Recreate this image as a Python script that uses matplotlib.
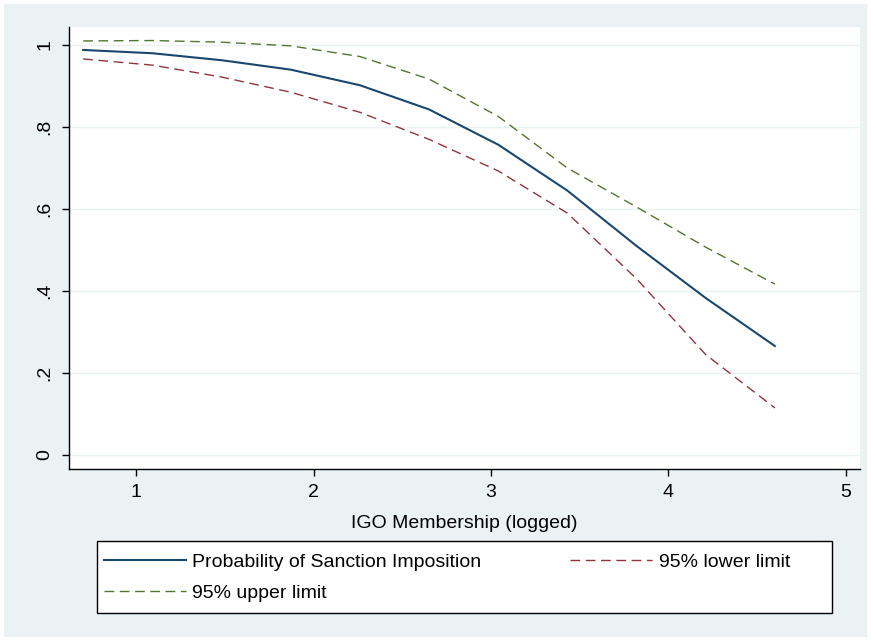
import numpy as np
import matplotlib.pyplot as plt
from matplotlib.patches import Rectangle

plt.rcParams['font.family'] = ['Liberation Sans', 'DejaVu Sans']

# predicted probability by logged IGO membership
igo = [0.70, 1.09, 1.48, 1.87, 2.26, 2.65, 3.04, 3.43, 3.82, 4.21, 4.60]
prob = [0.988, 0.980, 0.963, 0.940, 0.902, 0.843, 0.757, 0.645, 0.510, 0.383, 0.266]
lower = [0.966, 0.951, 0.922, 0.885, 0.836, 0.770, 0.693, 0.590, 0.430, 0.245, 0.115]
upper = [1.010, 1.011, 1.007, 0.998, 0.972, 0.917, 0.826, 0.700, 0.605, 0.507, 0.417]

yticks = [0, 0.2, 0.4, 0.6, 0.8, 1.0]
ylabels = ['0', '.2', '.4', '.6', '.8', '1']
xticks = [1, 2, 3, 4, 5]

bg = '#EAF2F3'
navy = '#1A476F'
maroon = '#90353B'
green = '#55752F'
W, H = 871, 641

fig = plt.figure(figsize=(8.71, 6.41), dpi=100)
fig.patch.set_facecolor('white')
fig.patches.append(Rectangle((4/W, 4/H), 1 - 8/W, 1 - 8/H,
                             transform=fig.transFigure, facecolor=bg,
                             edgecolor='none', zorder=-10))
# legend box
fig.patches.append(Rectangle((97/W, 1 - 613/H), (832 - 97)/W, (613 - 541)/H,
                             transform=fig.transFigure, facecolor='white',
                             edgecolor='black', lw=1, zorder=-5))

ax = fig.add_axes([69/W, 1 - 469/H, (860 - 69)/W, (469 - 27)/H])
ax.set_facecolor('white')

dash = (0, (7, 4))
l1, = ax.plot(igo, prob, color=navy, lw=1.5, label='Probability of Sanction Imposition')
l2, = ax.plot(igo, lower, color=maroon, lw=1.0, ls=dash, label='95% lower limit')
l3, = ax.plot(igo, upper, color=green, lw=1.0, ls=dash, label='95% upper limit')

ax.set_xlim(0.62, 5.08)
ax.set_ylim(-0.034, 1.044)
ax.set_yticks(yticks)
ax.set_yticklabels(ylabels, rotation=90, va='center')
ax.set_xticks(xticks)
ax.tick_params(labelsize=14, length=5, width=1, direction='out', pad=6)
for y in yticks:
    ax.axhline(y, color=bg, lw=1, zorder=0)

for s in ['top', 'right']:
    ax.spines[s].set_visible(False)
for s in ['left', 'bottom']:
    ax.spines[s].set_linewidth(1)

ax.set_xlabel('IGO Membership (logged)', fontsize=14, labelpad=10)

leg = fig.legend([l1, l3, l2], [l1.get_label(), l3.get_label(), l2.get_label()],
                 ncol=2, loc='upper left',
                 bbox_to_anchor=(104/W, 1 - 553/H),
                 fontsize=14, handlelength=4.2, frameon=False,
                 borderaxespad=0, borderpad=0, handletextpad=0.35,
                 labelspacing=0.7, columnspacing=4.55)

plt.savefig('out.png', dpi=100, facecolor=fig.get_facecolor())
